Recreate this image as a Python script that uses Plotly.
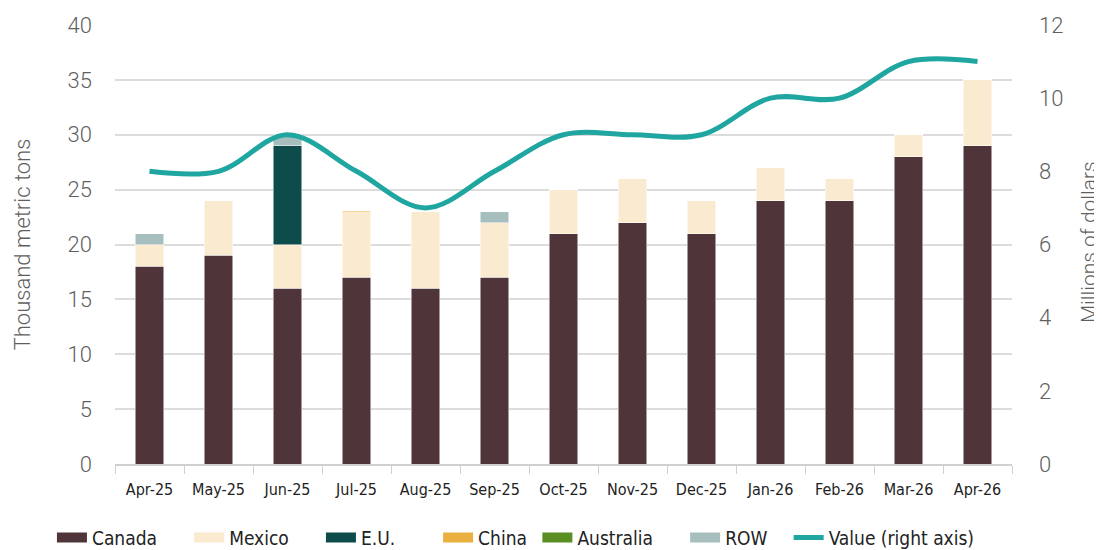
import plotly.graph_objects as go

months = ["Apr-25", "May-25", "Jun-25", "Jul-25", "Aug-25", "Sep-25", "Oct-25",
          "Nov-25", "Dec-25", "Jan-26", "Feb-26", "Mar-26", "Apr-26"]
canada = [18, 19, 16, 17, 16, 17, 21, 22, 21, 24, 24, 28, 29]
mexico = [2, 5, 4, 6, 7, 5, 4, 4, 3, 3, 2, 2, 6]
eu = [0, 0, 9, 0, 0, 0, 0, 0, 0, 0, 0, 0, 0]
china = [0, 0, 0, 0.1, 0, 0, 0, 0, 0, 0, 0, 0, 0]
australia = [0, 0, 0, 0, 0, 0, 0, 0, 0, 0, 0, 0, 0]
row = [1, 0, 1, 0, 0, 1, 0, 0, 0, 0, 0, 0, 0]
value = [8, 8, 9, 8, 7, 8, 9, 9, 9, 10, 10, 11, 11]

series = [
    ("Canada", canada, "#4F353A"),
    ("Mexico", mexico, "#FAEBD0"),
    ("E.U.", eu, "#0E4B4B"),
    ("China", china, "#EAB040"),
    ("Australia", australia, "#5A8E22"),
    ("ROW", row, "#A7BEBE"),
]
# extra legend spacing (non-breaking spaces after each name)
legend_pad = {"Canada": 5, "Mexico": 5, "E.U.": 7, "China": 1, "Australia": 5, "ROW": 3}

NARROW = "Liberation Sans Narrow, Arial Narrow, DejaVu Sans Condensed, Roboto, sans-serif"

fig = go.Figure()
for name, vals, col in series:
    fig.add_trace(go.Bar(
        x=months, y=vals, name=name, marker_color=col,
        marker_line_color="white", marker_line_width=0.5,
        width=0.41, yaxis="y", showlegend=False, legendgroup=name))
    # legend entry drawn as a wide swatch (no data points)
    fig.add_trace(go.Scatter(
        x=[None], y=[None], mode="lines",
        name=name + "\u00a0" * legend_pad[name], legendgroup=name,
        line=dict(color=col, width=12), yaxis="y"))

fig.add_trace(go.Scatter(
    x=months, y=value, name="Value (right axis)", mode="lines",
    line=dict(color="#20A6A0", width=5, shape="spline", smoothing=1.0),
    yaxis="y2"))

tick_font = dict(family="Roboto", size=22, color="#5f5f5f", weight=300)
title_font = dict(family="Roboto", size=22, color="#5f5f5f", weight=300)
fig.update_layout(
    barmode="stack",
    width=1102, height=550,
    margin=dict(l=107, r=98, t=17, b=94, autoexpand=False),
    plot_bgcolor="white", paper_bgcolor="white",
    font=dict(family=NARROW, color="#222"),
    xaxis=dict(
        type="category", tickson="boundaries", ticks="outside", ticklen=8,
        tickcolor="#d0d0d0", showline=True, linecolor="#d0d0d0", linewidth=1.5,
        tickfont=dict(family=NARROW, size=16, color="#222"), ticklabelstandoff=10,
        showgrid=False, automargin=False,
    ),
    yaxis=dict(
        range=[0, 40], dtick=5, showgrid=True, gridcolor="#dcdcdc", gridwidth=1.5,
        tickfont=tick_font, zeroline=False, automargin=False, ticklabelstandoff=22,
        title=dict(text="Thousand metric tons", font=title_font, standoff=30),
    ),
    yaxis2=dict(
        range=[0, 12], dtick=2, overlaying="y", side="right", showgrid=False,
        tickfont=tick_font, zeroline=False, automargin=False, ticklabelstandoff=26,
    ),
    annotations=[dict(
        text="Millions of dollars", textangle=-90, xref="paper", yref="paper",
        x=1.0859, y=0.5057, xanchor="center", yanchor="middle",
        showarrow=False, font=dict(family="Roboto", size=21, color="#5f5f5f", weight=300),
    )],
    legend=dict(
        orientation="h", x=-0.0703, xanchor="left",
        y=-0.168, yanchor="middle",
        font=dict(family=NARROW, size=19, color="#222"),
        traceorder="normal",
    ),
)

fig.write_html("out.html")
